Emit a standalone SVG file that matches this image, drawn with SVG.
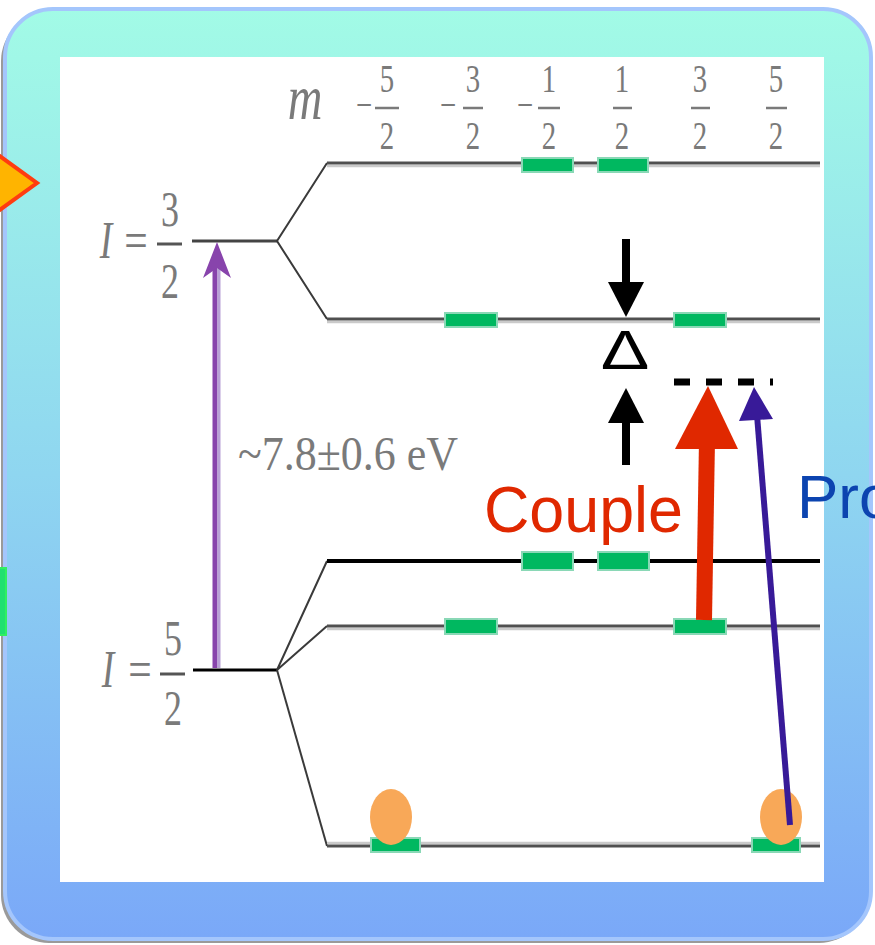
<svg xmlns="http://www.w3.org/2000/svg" width="875" height="945" viewBox="0 0 875 945">
<defs>
<linearGradient id="bg" x1="0" y1="0" x2="0" y2="1">
<stop offset="0" stop-color="#a2fbe6"/>
<stop offset="0.5" stop-color="#8fd6f0"/>
<stop offset="1" stop-color="#7aa8f8"/>
</linearGradient>
<style>
.lv{stroke:#505050;stroke-width:3;fill:none}
.lvs{stroke:#cacaca;stroke-width:2.5;fill:none}
.blk{stroke:#000;stroke-width:4;fill:none}
.br{stroke:#3a3a3a;stroke-width:2;fill:none}
.bar{fill:#00b860;stroke:#8ad8b6;stroke-width:2}
.dot{fill:#f8a858}
.ser{font-family:"Liberation Serif","Times New Roman",serif;fill:#7a7a7a}
.fb{stroke:#7a7a7a;stroke-width:2.5}
</style>
</defs>

<!-- frame -->
<g id="frame">
<rect x="1" y="13" width="866" height="930" rx="48" fill="#9a9a9a"/>
<rect x="5" y="9" width="866" height="930" rx="48" fill="url(#bg)" stroke="#a4c6fc" stroke-width="4"/>
<rect x="60" y="57" width="764" height="825" fill="#fff"/>
</g>

<g id="side-marker-diamond">
<polygon points="-14,146 37,183 -14,220" fill="#ffb400" stroke="#ff3c10" stroke-width="4" stroke-linejoin="miter"/>
</g>
<g id="side-marker-bar">
<rect x="-4" y="568" width="10" height="67" fill="#20e070" stroke="#30f060" stroke-width="2"/>
</g>

<!-- m labels -->
<g id="m-labels">
<text class="ser" font-size="64" font-style="italic" text-anchor="middle" transform="translate(305,119) scale(0.75,1)">m</text>
<g transform="translate(364,118) scale(0.72,1)"><text class="ser" font-size="40" text-anchor="middle">−</text></g>
<g transform="translate(387,0) scale(0.72,1)"><text class="ser" font-size="40" text-anchor="middle" y="92">5</text><text class="ser" font-size="40" text-anchor="middle" y="149">2</text></g>
<line class="fb" x1="375" y1="108" x2="399" y2="108"/>
<g transform="translate(448,118) scale(0.72,1)"><text class="ser" font-size="40" text-anchor="middle">−</text></g>
<g transform="translate(473,0) scale(0.72,1)"><text class="ser" font-size="40" text-anchor="middle" y="92">3</text><text class="ser" font-size="40" text-anchor="middle" y="149">2</text></g>
<line class="fb" x1="463" y1="108" x2="483" y2="108"/>
<g transform="translate(525,118) scale(0.72,1)"><text class="ser" font-size="40" text-anchor="middle">−</text></g>
<g transform="translate(549,0) scale(0.72,1)"><text class="ser" font-size="40" text-anchor="middle" y="92">1</text><text class="ser" font-size="40" text-anchor="middle" y="149">2</text></g>
<line class="fb" x1="538" y1="108" x2="560" y2="108"/>
<g transform="translate(622,0) scale(0.72,1)"><text class="ser" font-size="40" text-anchor="middle" y="92">1</text><text class="ser" font-size="40" text-anchor="middle" y="149">2</text></g>
<line class="fb" x1="613" y1="108" x2="632" y2="108"/>
<g transform="translate(700,0) scale(0.72,1)"><text class="ser" font-size="40" text-anchor="middle" y="92">3</text><text class="ser" font-size="40" text-anchor="middle" y="149">2</text></g>
<line class="fb" x1="691" y1="108" x2="710" y2="108"/>
<g transform="translate(776,0) scale(0.72,1)"><text class="ser" font-size="40" text-anchor="middle" y="92">5</text><text class="ser" font-size="40" text-anchor="middle" y="149">2</text></g>
<line class="fb" x1="766" y1="108" x2="787" y2="108"/>
</g>

<!-- I = 3/2 -->
<g id="label-I32">
<text class="ser" font-size="52" font-style="italic" text-anchor="middle" transform="translate(106,258) scale(0.72,1)">I</text>
<text class="ser" font-size="52" text-anchor="middle" transform="translate(136,258) scale(0.8,1)">=</text>
<text class="ser" font-size="50" text-anchor="middle" transform="translate(170,226) scale(0.72,1)">3</text>
<line x1="157" y1="244" x2="182" y2="244" stroke="#555" stroke-width="3"/>
<text class="ser" font-size="50" text-anchor="middle" transform="translate(170,298) scale(0.72,1)">2</text>
</g>

<!-- I = 5/2 -->
<g id="label-I52">
<text class="ser" font-size="52" font-style="italic" text-anchor="middle" transform="translate(108,687) scale(0.72,1)">I</text>
<text class="ser" font-size="52" text-anchor="middle" transform="translate(140,687) scale(0.8,1)">=</text>
<text class="ser" font-size="50" text-anchor="middle" transform="translate(173,655) scale(0.72,1)">5</text>
<line x1="160" y1="674" x2="185" y2="674" stroke="#555" stroke-width="3"/>
<text class="ser" font-size="50" text-anchor="middle" transform="translate(173,725) scale(0.72,1)">2</text>
</g>

<!-- levels -->
<g id="levels-excited">
<line x1="192" y1="241" x2="277" y2="241" stroke="#444" stroke-width="3"/>
<polyline class="br" points="327,163 277,241 327,319"/>
<line class="lvs" x1="327" y1="166" x2="820" y2="166"/>
<line class="lv" x1="327" y1="163" x2="820" y2="163"/>
<line class="lvs" x1="327" y1="322" x2="820" y2="322"/>
<line class="lv" x1="327" y1="319" x2="820" y2="319"/>
</g>

<g id="levels-ground">
<line x1="193" y1="670" x2="277" y2="670" stroke="#000" stroke-width="3"/>
<polyline class="br" points="327,561 277,670 327,626"/>
<polyline class="br" points="277,670 327,846"/>
<line class="blk" x1="327" y1="561" x2="820" y2="561"/>
<line class="lvs" x1="327" y1="629" x2="820" y2="629"/>
<line class="lv" x1="327" y1="626" x2="820" y2="626"/>
<line class="lvs" x1="327" y1="843" x2="820" y2="843"/>
<line class="lv" x1="327" y1="846" x2="820" y2="846"/>
</g>

<!-- green bars -->
<g id="bars">
<rect class="bar" x="522" y="158" width="51" height="14"/>
<rect class="bar" x="598" y="158" width="50" height="14"/>
<rect class="bar" x="445" y="313" width="52" height="14"/>
<rect class="bar" x="674" y="313" width="52" height="14"/>
<rect class="bar" x="522" y="552" width="51" height="18"/>
<rect class="bar" x="598" y="552" width="51" height="18"/>
<rect class="bar" x="445" y="619" width="52" height="15"/>
<rect class="bar" x="674" y="619" width="52" height="15"/>
<rect class="bar" x="371" y="838" width="49" height="14"/>
<rect class="bar" x="752" y="838" width="48" height="14"/>
</g>

<g id="populations">
<ellipse class="dot" cx="391" cy="817" rx="21" ry="28"/>
<ellipse class="dot" cx="781" cy="817" rx="21" ry="28"/>
</g>

<!-- connectors -->
<g id="connectors">
<!-- purple transition -->
<line x1="215" y1="668" x2="215" y2="262" stroke="#8844ac" stroke-width="5"/>
<line x1="219" y1="668" x2="219" y2="262" stroke="#b8a0d6" stroke-width="3"/>
<polygon points="217,242 231,278 217,268 203,278" fill="#8844ac"/>
<!-- delta arrows -->
<line x1="626" y1="239" x2="626" y2="290" stroke="#000" stroke-width="8"/>
<polygon points="608,282 644,282 626,317" fill="#000"/>
<line x1="626" y1="465" x2="626" y2="415" stroke="#000" stroke-width="8"/>
<polygon points="608,423 644,423 626,388" fill="#000"/>
<!-- virtual level -->
<line x1="674" y1="382" x2="773" y2="382" stroke="#000" stroke-width="7" stroke-dasharray="16 16"/>
<!-- couple arrow -->
<line x1="704" y1="620" x2="707" y2="440" stroke="#e02800" stroke-width="16"/>
<polygon points="708,386 738,449 675,449" fill="#e02800"/>
<!-- probe arrow -->
<line x1="790" y1="825" x2="757" y2="415" stroke="#381a98" stroke-width="6"/>
<polygon points="754,387 773,419 739,421" fill="#381a98"/>
</g>

<g id="delta-label">
<text font-family="Liberation Sans, Arial, sans-serif" font-size="56" text-anchor="middle" fill="#000" transform="translate(625,369) scale(1.3,1)">Δ</text>
</g>
<g id="energy-label">
<text x="238" y="470" class="ser" font-size="48" fill="#959595" textLength="220" lengthAdjust="spacingAndGlyphs">~7.8±0.6 eV</text>
</g>
<g id="couple-label">
<text x="484" y="532" font-family="Liberation Sans, Arial, sans-serif" font-size="64" fill="#e02800" textLength="199" lengthAdjust="spacingAndGlyphs">Couple</text>
</g>
<g id="probe-label">
<text x="797" y="518" font-family="Liberation Sans, Arial, sans-serif" font-size="62" fill="#0c44b0">Pro</text>
</g>
</svg>
